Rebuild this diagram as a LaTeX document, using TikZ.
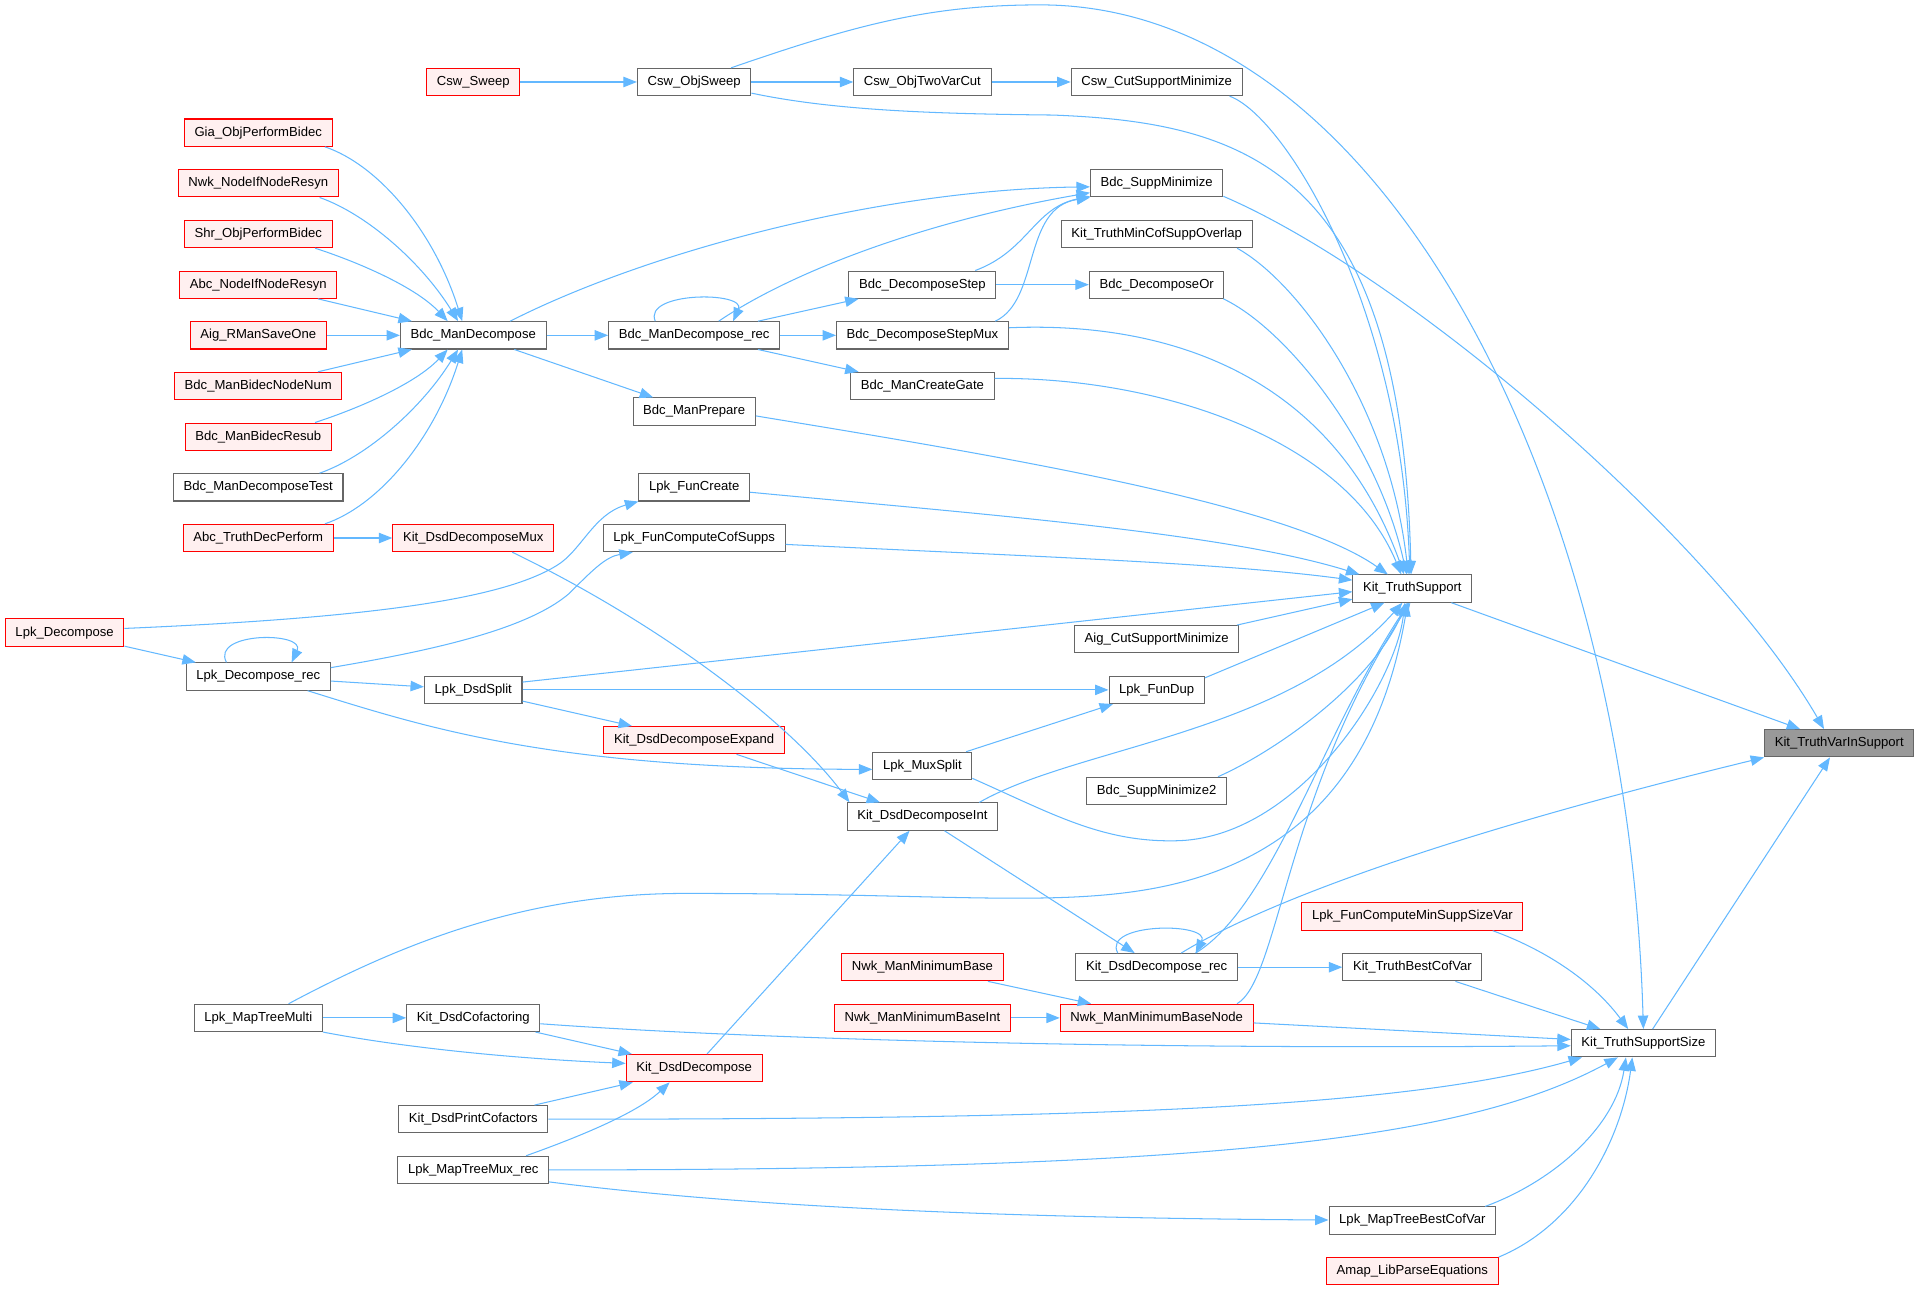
\documentclass[tikz,border=0pt]{standalone}
\usepackage{fontspec}
\setmainfont{Liberation Sans}
\usetikzlibrary{arrows.meta}
\definecolor{cEdge}{HTML}{63B8FF}
\definecolor{cBoxL}{HTML}{666666}
\definecolor{cRedL}{HTML}{FF0000}
\definecolor{cRedF}{HTML}{FFF0F0}
\definecolor{cRootF}{HTML}{999999}
\tikzset{
  fn/.style={draw=cBoxL,fill=white,line width=0.85pt,minimum height=22.3pt,
      inner xsep=8.3pt,inner ysep=0pt,font=\fontsize{10.7}{12}\selectfont,text=black},
  fnred/.style={fn,draw=cRedL,fill=cRedF},
  fnroot/.style={fn,fill=cRootF},
  call/.style={draw=cEdge,line width=0.85pt,-{Triangle[length=11pt,width=8.5pt]}},
}
\begin{document}
\begin{tikzpicture}[x=1pt,y=1pt]
  \useasboundingbox (0,0) rectangle (1568,-1054);

  \node[fnred] (cswsweep) at (386.7,-67) {Csw\_Sweep};
  \node[fn] (cswobjsweep) at (567.2,-67) {Csw\_ObjSweep};
  \node[fn] (cswotvc) at (753.7,-67) {Csw\_ObjTwoVarCut};
  \node[fn] (cswcsm) at (945.1,-67) {Csw\_CutSupportMinimize};
  \node[fnred] (giaopb) at (211,-108.4) {Gia\_ObjPerformBidec};
  \node[fnred] (nwknir) at (211,-149.8) {Nwk\_NodeIfNodeResyn};
  \node[fnred] (shropb) at (211,-191.2) {Shr\_ObjPerformBidec};
  \node[fnred] (abcnir) at (211,-232.6) {Abc\_NodeIfNodeResyn};
  \node[fnred] (aigrso) at (211,-274) {Aig\_RManSaveOne};
  \node[fnred] (bdcmbnn) at (211,-315.4) {Bdc\_ManBidecNodeNum};
  \node[fnred] (bdcmbr) at (211,-356.8) {Bdc\_ManBidecResub};
  \node[fn] (bdcmdt) at (211,-398.2) {Bdc\_ManDecomposeTest};
  \node[fnred] (abctdp) at (211,-439.6) {Abc\_TruthDecPerform};
  \node[fnred] (lpkdec) at (52.8,-516.9) {Lpk\_Decompose};
  \node[fn] (lpkdecrec) at (211,-552.8) {Lpk\_Decompose\_rec};
  \node[fn] (lpkmtm) at (211,-831.7) {Lpk\_MapTreeMulti};
  \node[fn] (bdcmd) at (386.7,-274) {Bdc\_ManDecompose};
  \node[fnred] (kitddm) at (386.7,-439.6) {Kit\_DsdDecomposeMux};
  \node[fn] (lpkdsdsplit) at (386.7,-563.7) {Lpk\_DsdSplit};
  \node[fn] (kitdcof) at (386.7,-831.7) {Kit\_DsdCofactoring};
  \node[fn] (kitdpc) at (386.7,-914.5) {Kit\_DsdPrintCofactors};
  \node[fn] (lpkmtmr) at (386.7,-955.9) {Lpk\_MapTreeMux\_rec};
  \node[fn] (bdcmdrec) at (567.2,-274) {Bdc\_ManDecompose\_rec};
  \node[fn] (bdcmprep) at (567.2,-336.3) {Bdc\_ManPrepare};
  \node[fn] (lpkfc) at (567.2,-398.2) {Lpk\_FunCreate};
  \node[fn] (lpkfccs) at (567.2,-439.6) {Lpk\_FunComputeCofSupps};
  \node[fnred] (kitdde) at (567.2,-604.8) {Kit\_DsdDecomposeExpand};
  \node[fnred] (kitdd) at (567.2,-872.8) {Kit\_DsdDecompose};
  \node[fn] (bdcds) at (753.7,-232.6) {Bdc\_DecomposeStep};
  \node[fn] (bdcdsm) at (753.7,-274) {Bdc\_DecomposeStepMux};
  \node[fn] (bdcmcg) at (753.7,-315.4) {Bdc\_ManCreateGate};
  \node[fn] (lpkms) at (753.7,-625.8) {Lpk\_MuxSplit};
  \node[fn] (kitddi) at (753.7,-667.2) {Kit\_DsdDecomposeInt};
  \node[fnred] (nwkmmb) at (753.7,-790.3) {Nwk\_ManMinimumBase};
  \node[fnred] (nwkmmbi) at (753.7,-831.7) {Nwk\_ManMinimumBaseInt};
  \node[fn] (bdcsm) at (945.1,-149.8) {Bdc\_SuppMinimize};
  \node[fn] (kittmcso) at (945.1,-191.2) {Kit\_TruthMinCofSuppOverlap};
  \node[fn] (bdcdor) at (945.1,-232.6) {Bdc\_DecomposeOr};
  \node[fn] (aigcsm) at (945.1,-522.3) {Aig\_CutSupportMinimize};
  \node[fn] (lpkfd) at (945.1,-563.7) {Lpk\_FunDup};
  \node[fn] (bdcsm2) at (945.1,-646.2) {Bdc\_SuppMinimize2};
  \node[fn] (kitddrec) at (945.1,-790.3) {Kit\_DsdDecompose\_rec};
  \node[fnred] (nwkmmbn) at (945.1,-831.7) {Nwk\_ManMinimumBaseNode};
  \node[fn] (kits) at (1154,-480.9) {Kit\_TruthSupport};
  \node[fnred] (lpkfcmssv) at (1154,-748.9) {Lpk\_FunComputeMinSuppSizeVar};
  \node[fn] (kittbcv) at (1154,-790.3) {Kit\_TruthBestCofVar};
  \node[fn] (lpkmtbcv) at (1154,-997.3) {Lpk\_MapTreeBestCofVar};
  \node[fnred] (amaplpe) at (1154,-1038.7) {Amap\_LibParseEquations};
  \node[fn] (kitss) at (1342.8,-852.4) {Kit\_TruthSupportSize};
  \node[fnroot] (kitvis) at (1502.8,-607.3) {Kit\_TruthVarInSupport};

  \draw[call] (cswsweep) -- (cswobjsweep);
  \draw[call] (cswobjsweep) -- (cswotvc);
  \draw[call] (cswotvc) -- (cswcsm);
  \draw[call] (cswobjsweep.21) .. controls (700,-20) and (760,-4) .. (850,-4)
    .. controls (1130,-4) and (1330,-400) .. (kitss.north);
  \draw[call] (cswobjsweep.-11) .. controls (680,-90) and (760,-93) .. (860,-94)
    .. controls (1020,-100) and (1145,-140) .. (kits.95);
  \draw[call] (cswcsm.-11) .. controls (1050,-95) and (1145,-250) .. (kits.100);

  \draw[call] (giaopb.-12) .. controls (310,-135) and (355,-190) .. (bdcmd.128);
  \draw[call] (nwknir.-13) .. controls (300,-175) and (345,-215) .. (bdcmd.137);
  \draw[call] (shropb.-14) .. controls (295,-215) and (340,-235) .. (bdcmd.151);
  \draw[call] (abcnir) -- (bdcmd.167);
  \draw[call] (aigrso) -- (bdcmd);
  \draw[call] (bdcmbnn) -- (bdcmd.-167);
  \draw[call] (bdcmbr.14) .. controls (295,-333) and (340,-313) .. (bdcmd.-151);
  \draw[call] (bdcmdt.13) .. controls (300,-373) and (345,-333) .. (bdcmd.-137);
  \draw[call] (abctdp.12) .. controls (310,-413) and (355,-358) .. (bdcmd.-128);

  \draw[call] (bdcmd) -- (bdcmdrec);
  \draw[call] (bdcmd.21) .. controls (530,-205) and (720,-155) .. (bdcsm.183);
  \draw[call] (bdcmd) -- (bdcmprep);
  \draw[call] (bdcmdrec.160) .. controls (525,-238) and (610,-238) .. (bdcmdrec.20);
  \draw[call] (bdcmdrec.30) .. controls (650,-220) and (760,-180) .. (bdcsm.188);
  \draw[call] (bdcmdrec) -- (bdcds);
  \draw[call] (bdcmdrec) -- (bdcdsm);
  \draw[call] (bdcmdrec) -- (bdcmcg);
  \draw[call] (bdcds.15) .. controls (840,-205) and (845,-170) .. (bdcsm.191);
  \draw[call] (bdcds) -- (bdcdor);
  \draw[call] (bdcdsm.11) .. controls (850,-245) and (835,-170) .. (bdcsm.192);

  \draw[call] (bdcsm.-11) .. controls (1150,-225) and (1400,-440) .. (kitvis.137);
  \draw[call] (kittmcso.-10) .. controls (1060,-230) and (1135,-330) .. (kits.106);
  \draw[call] (bdcdor.-12) .. controls (1050,-268) and (1125,-360) .. (kits.112);
  \draw[call] (bdcdsm.5) .. controls (960,-262) and (1090,-310) .. (kits.120);
  \draw[call] (bdcmcg.6) .. controls (950,-308) and (1100,-360) .. (kits.128);
  \draw[call] (bdcmprep.-4) .. controls (800,-370) and (1050,-410) .. (kits.150);
  \draw[call] (lpkfc.-5) .. controls (800,-420) and (1000,-435) .. (kits.165);
  \draw[call] (lpkfccs.-4) .. controls (850,-455) and (1000,-460) .. (kits.172);
  \draw[call] (lpkdsdsplit.9) -- (kits.183);
  \draw[call] (aigcsm.10) -- (kits.190);
  \draw[call] (lpkfd.14) -- (kits.-153);
  \draw[call] (kitddi.14) .. controls (880,-610) and (1050,-600) .. (kits.-125);
  \draw[call] (lpkms.-14) .. controls (860,-665) and (900,-688) .. (960,-687)
    .. controls (1060,-686) and (1140,-560) .. (kits.-118);
  \draw[call] (bdcsm2.13) .. controls (1040,-615) and (1120,-560) .. (kits.-112);
  \draw[call] (lpkmtm.25) .. controls (330,-770) and (430,-730) .. (560,-730)
    .. controls (760,-730) and (850,-740) .. (930,-728)
    .. controls (1050,-710) and (1125,-640) .. (kits.-108);
  \draw[call] (kitddrec.20) .. controls (1040,-740) and (1080,-600) .. (kits.-103);
  \draw[call] (nwkmmbn.10) .. controls (1045,-800) and (1050,-650) .. (kits.-98);

  \draw[call] (kits) -- (kitvis);
  \draw[call] (kitddrec.30) .. controls (1020,-745) and (1150,-690) .. (kitvis.south west);
  \draw[call] (kitss) -- (kitvis);

  \draw[call] (lpkfcmssv.-10) .. controls (1260,-775) and (1300,-800) .. (kitss.137);
  \draw[call] (kittbcv) -- (kitss);
  \draw[call] (nwkmmbn) -- (kitss);
  \draw[call] (kitdcof.-5) .. controls (600,-848) and (900,-858) .. (kitss.182);
  \draw[call] (kitdpc) .. controls (900,-914.5) and (1150,-905) .. (kitss.-167);
  \draw[call] (lpkmtmr) .. controls (1000,-956) and (1200,-930) .. (kitss.-151);
  \draw[call] (lpkmtbcv.11) .. controls (1270,-965) and (1320,-920) .. (kitss.-141);
  \draw[call] (amaplpe.north east) .. controls (1290,-1000) and (1325,-930) .. (kitss.-128);

  \draw[call] (kitddrec.160) .. controls (900,-753.4) and (990,-753.4) .. (kitddrec.20);
  \draw[call] (kitddrec) -- (kittbcv);
  \draw[call] (kitddi) -- (kitddrec);
  \draw[call] (kitdd) -- (kitddi);
  \draw[call] (kitddm.-20) .. controls (540,-510) and (645,-590) .. (kitddi.169);
  \draw[call] (kitdde) -- (kitddi);
  \draw[call] (abctdp) -- (kitddm);

  \draw[call] (lpkdec.4) .. controls (300,-505) and (410,-490) .. (455,-462)
    .. controls (475,-450) and (485,-420) .. (lpkfc.south west);
  \draw[call] (lpkdec) -- (lpkdecrec);
  \draw[call] (lpkdecrec.156) .. controls (172,-516) and (250,-516) .. (lpkdecrec.23);
  \draw[call] (lpkdecrec.7) .. controls (350,-532) and (430,-515) .. (465,-485)
    .. controls (485,-465) and (495,-455) .. (lpkfccs.-167);
  \draw[call] (lpkdecrec) -- (lpkdsdsplit);
  \draw[call] (lpkdecrec.-16) .. controls (350,-595) and (450,-628) .. (lpkms.184);
  \draw[call] (lpkdsdsplit) -- (lpkfd);
  \draw[call] (lpkdsdsplit) -- (kitdde);
  \draw[call] (lpkms) -- (lpkfd);

  \draw[call] (lpkmtm) -- (kitdcof);
  \draw[call] (lpkmtm.south east) .. controls (330,-856) and (420,-865) .. (kitdd.176);
  \draw[call] (kitdcof) -- (kitdd);
  \draw[call] (kitdpc) -- (kitdd);
  \draw[call] (lpkmtmr.15) .. controls (470,-930) and (520,-910) .. (kitdd.-150);
  \draw[call] (lpkmtmr.-9) .. controls (600,-985) and (800,-995) .. (lpkmtbcv);

  \draw[call] (nwkmmb) -- (nwkmmbn);
  \draw[call] (nwkmmbi) -- (nwkmmbn);
\end{tikzpicture}
\end{document}
